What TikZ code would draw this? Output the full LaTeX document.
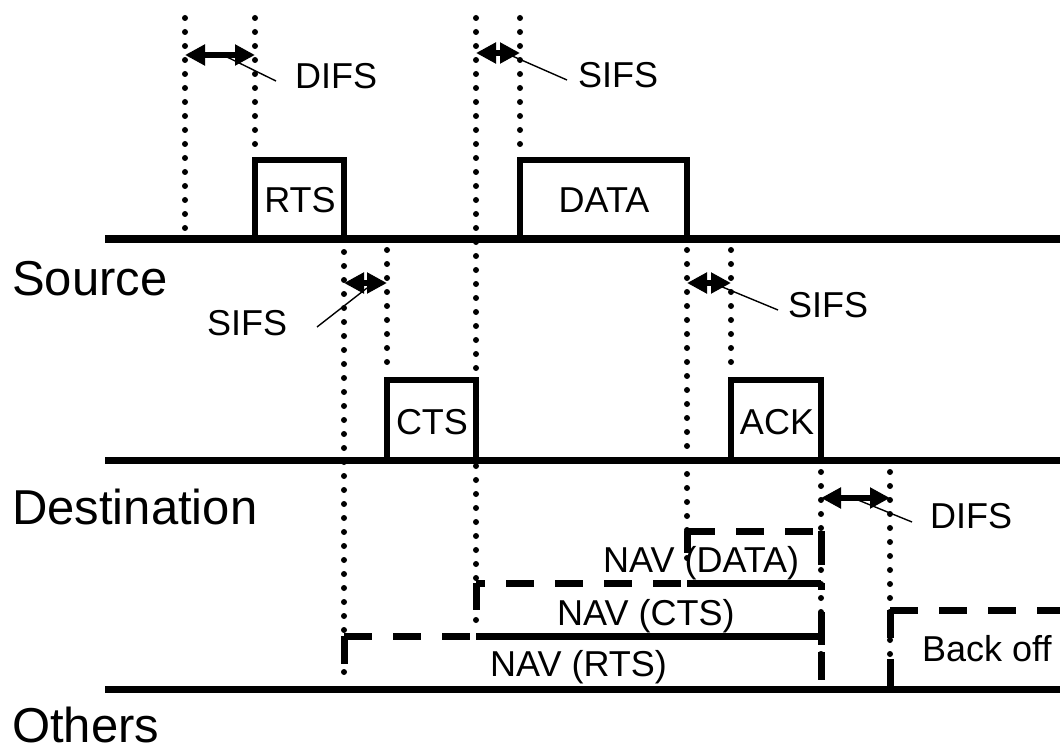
\documentclass[tikz,border=0pt]{standalone}
\usepackage{fontspec}
\setmainfont{Liberation Sans}
\usepackage{tikz}
\usetikzlibrary{arrows.meta,calc,positioning}

\begin{document}
\begin{tikzpicture}[x=1pt,y=-1pt,>={Triangle[length=20pt,width=20pt]},
    medium/.style={line width=7pt},
    frame/.style={line width=6pt},
    guide/.style={line width=6pt,line cap=round,dash pattern=on 0pt off 14pt},
    nav/.style={line width=7pt,dash pattern=on 28pt off 21pt},
    navfull/.style={line width=7pt},
    span/.style={line width=6pt,<->},
    leader/.style={line width=1.4pt},
    station/.style={font=\fontsize{49}{55}\selectfont,anchor=base west,inner sep=0pt},
    tag/.style={font=\fontsize{36}{40}\selectfont,anchor=base west,inner sep=0pt},
    frametext/.style={font=\fontsize{36}{40}\selectfont,anchor=base,inner sep=0pt}]
  \useasboundingbox (0,0) rectangle (1060,754);

  % dotted time marks
  \foreach \x/\ya/\yb in {185/18/232, 255/18/150, 344/252/683, 387/250/376,
      476/18/623, 520/18/150, 687/250/572, 731/250/376, 821/472/680, 890/472/657}
    \draw[guide] (\x,\ya) -- (\x,\yb);

  % the three stations
  \draw[medium] (105,239) -- (1060,239);
  \draw[medium] (105,460) -- (1060,460);
  \draw[medium] (105,689) -- (1060,689);
  \node[station] (src) at (12,295) {Source};
  \node[station] (dst) at (12,524) {Destination};
  \node[station] (oth) at (12,742) {Others};

  % frames
  \draw[frame] (255,239) |- (344,160) -- (344,239);
  \node[frametext] (rts) at (300,213) {RTS};
  \draw[frame] (520,239) |- (687,160) -- (687,239);
  \node[frametext] (data) at (604,213) {DATA};
  \draw[frame] (387,460) |- (476,380) -- (476,460);
  \node[frametext] (cts) at (432,434) {CTS};
  \draw[frame] (731,460) |- (821,380) -- (821,460);
  \node[frametext] (ack) at (777,434) {ACK};

  % inter frame spaces
  \draw[span] (185,55) -- (255,55);
  \draw[span] (476,53) -- (520,53);
  \draw[span] (344,283) -- (387,283);
  \draw[span] (687,283) -- (731,283);
  \draw[span] (821,498) -- (890,498);

  \node[tag] (difsA) at (295,89) {DIFS};
  \node[tag] (sifsA) at (578,88) {SIFS};
  \node[tag] (sifsB) at (207,335) {SIFS};
  \node[tag] (sifsC) at (788,317) {SIFS};
  \node[tag] (difsB) at (930,528) {DIFS};

  \coordinate (A1) at (227,57);  \coordinate (A2) at (276,81);
  \coordinate (B1) at (510,55);  \coordinate (B2) at (567,80);
  \coordinate (C1) at (367,288); \coordinate (C2) at (317,327);
  \coordinate (D1) at (720,286); \coordinate (D2) at (778,310);
  \coordinate (E1) at (858,500); \coordinate (E2) at (912,522);
  \draw[leader] (A1) -- (A2);
  \draw[leader] (B1) -- (B2);
  \draw[leader] (C1) -- (C2);
  \draw[leader] (D1) -- (D2);
  \draw[leader] (E1) -- (E2);

  % NAV timers
  \draw[nav] (687,531) -- (687,553);
  \draw[nav] (687,531) -- (821,531);
  \node[tag] (navdata) at (603,572) {NAV (DATA)};

  \draw[nav] (476,583) -- (476,610);
  \draw[nav,dash phase=19pt] (476,583) -- (687,583);
  \draw[navfull] (687,583) -- (821,583);
  \node[tag] (navcts) at (557,625) {NAV (CTS)};

  \draw[nav] (344,636) -- (344,683);
  \draw[nav] (344,636) -- (476,636);
  \draw[navfull] (476,636) -- (821,636);
  \node[tag] (navrts) at (490,676) {NAV (RTS)};

  \draw[line width=7pt,dash pattern=on 34pt off 18pt on 7pt off 22pt on 33pt off 7pt on 28pt]
    (821,531) -- (821,680);

  \draw[nav] (890,610) -- (1060,610);
  \draw[nav] (890,610) -- (890,689);
  \node[tag] (backoff) at (922,661) {Back off};
\end{tikzpicture}
\end{document}
